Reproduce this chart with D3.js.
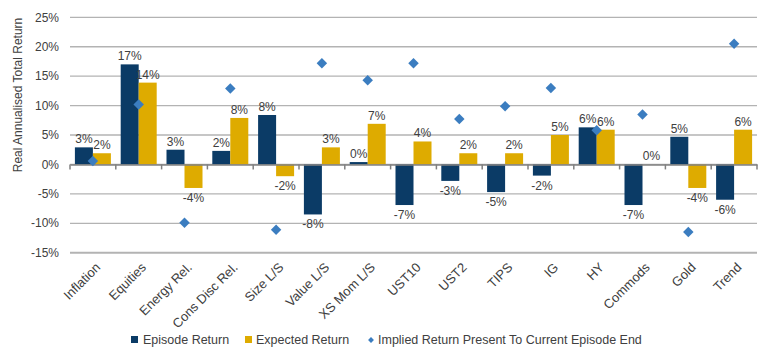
<!DOCTYPE html>
<html><head><meta charset="utf-8">
<script src="https://cdn.jsdelivr.net/npm/d3@7"></script>
<style>body{margin:0;background:#fff;}svg{display:block;font-family:"Liberation Sans",Arial,sans-serif;}</style>
</head><body><svg id="c" width="770" height="355"></svg>
<script>
const categories = ["Inflation","Equities","Energy Rel.","Cons Disc Rel.","Size L/S","Value L/S","XS Mom L/S","UST10","UST2","TIPS","IG","HY","Commods","Gold","Trend"];
const episodeReturn = [2.9,17.0,2.5,2.3,8.4,-8.5,0.4,-6.9,-2.8,-4.7,-1.9,6.3,-6.9,4.7,-6.0];
const expectedReturn = [1.9,13.9,-4.0,7.9,-2.0,2.9,6.9,3.9,1.9,1.9,5.0,5.9,0.0,-4.0,5.9];
const impliedReturn = [0.6,10.2,-9.9,12.9,-11.1,17.2,14.3,17.2,7.7,9.9,13.0,5.8,8.5,-11.5,20.5];
const yTicks = [-15,-10,-5,0,5,10,15,20,25];
const seriesNames = ["Episode Return","Expected Return","Implied Return Present To Current Episode End"];
const colors = {ep:"#0b3b66", ex:"#deab00", im:"#3b7dc0"};

const svg = d3.select("#c");
const x = d3.scaleBand().domain(categories).range([70,757]).paddingInner(0).paddingOuter(0);
const y = d3.scaleLinear().domain([-15,25]).range([252.7,17.3]);
const bw = 18;

// gridlines
svg.append("g").selectAll("line").data(yTicks).join("line")
  .attr("x1",70).attr("x2",757).attr("y1",d=>y(d)).attr("y2",d=>y(d))
  .attr("stroke","#b3b3b3").attr("stroke-width",d=>d===-15?2:1.3);
// y labels
svg.append("g").selectAll("text").data(yTicks).join("text")
  .attr("x",59).attr("y",d=>y(d)).attr("dy","0.35em").attr("text-anchor","end")
  .attr("font-size",12).attr("fill","#404040").text(d=>d+"%");
svg.append("text").attr("transform","translate(22,95) rotate(-90)").attr("text-anchor","middle")
  .attr("font-size",12).attr("fill","#404040").text("Real Annualised Total Return");

// bars
const gEp = svg.append("g");
gEp.selectAll("rect").data(categories).join("rect")
  .attr("x",d=>x(d)+x.bandwidth()/2-bw).attr("width",bw)
  .attr("y",(d,i)=>y(Math.max(0,episodeReturn[i]))).attr("height",(d,i)=>Math.abs(y(episodeReturn[i])-y(0)))
  .attr("fill",colors.ep);
const gEx = svg.append("g");
gEx.selectAll("rect").data(categories).join("rect")
  .attr("x",d=>x(d)+x.bandwidth()/2).attr("width",bw)
  .attr("y",(d,i)=>y(Math.max(0,expectedReturn[i]))).attr("height",(d,i)=>Math.abs(y(expectedReturn[i])-y(0)))
  .attr("fill",colors.ex);

// zero axis with ticks
const ax = svg.append("g").attr("transform",`translate(0,${y(0)})`)
  .call(d3.axisBottom(x).tickSize(0).tickFormat(""));
ax.select(".domain").attr("stroke","#808080").attr("stroke-width",1.5);
const bounds = categories.map(d=>x(d)).concat([x.range()[1]]);
svg.append("g").selectAll("line").data(bounds).join("line")
  .attr("x1",d=>d).attr("x2",d=>d).attr("y1",y(0)).attr("y2",y(0)+5)
  .attr("stroke","#808080").attr("stroke-width",1.5);

// value labels
function lab(vals, off){
  svg.append("g").selectAll("text").data(categories).join("text")
    .attr("x",d=>x(d)+x.bandwidth()/2+off)
    .attr("y",(d,i)=>vals[i]>=0? y(vals[i])-4 : y(vals[i])+14)
    .attr("text-anchor","middle").attr("font-size",12).attr("fill","#404040")
    .text((d,i)=>Math.round(vals[i])+"%");
}
lab(episodeReturn,-bw/2);
lab(expectedReturn,bw/2);

// diamonds
svg.append("g").selectAll("path").data(categories).join("path")
  .attr("d",d3.symbol(d3.symbolDiamond2,70))
  .attr("transform",(d,i)=>`translate(${x(d)+x.bandwidth()/2},${y(impliedReturn[i])})`)
  .attr("fill",colors.im);

// x labels
svg.append("g").selectAll("text").data(categories).join("text")
  .attr("transform",d=>`translate(${x(d)+x.bandwidth()/2+5},265) rotate(-45)`)
  .attr("text-anchor","end").attr("dy","0.35em").attr("font-size",13).attr("fill","#404040").text(d=>d);

// legend
const leg = svg.append("g");
const items = [{n:seriesNames[0],c:colors.ep,t:"sq",x:131,tx:143},{n:seriesNames[1],c:colors.ex,t:"sq",x:245,tx:256},{n:seriesNames[2],c:colors.im,t:"di",x:367,tx:378}];
items.forEach(it=>{
  if(it.t==="sq") leg.append("rect").attr("x",it.x).attr("y",336).attr("width",7).attr("height",7).attr("fill",it.c);
  else leg.append("path").attr("d",d3.symbol(d3.symbolDiamond2,22)).attr("transform",`translate(${it.x+4},340)`).attr("fill",it.c);
  leg.append("text").attr("x",it.tx).attr("y",340).attr("dy","0.35em").attr("font-size",12.5).attr("fill","#404040").text(it.n);
});
</script></body></html>
